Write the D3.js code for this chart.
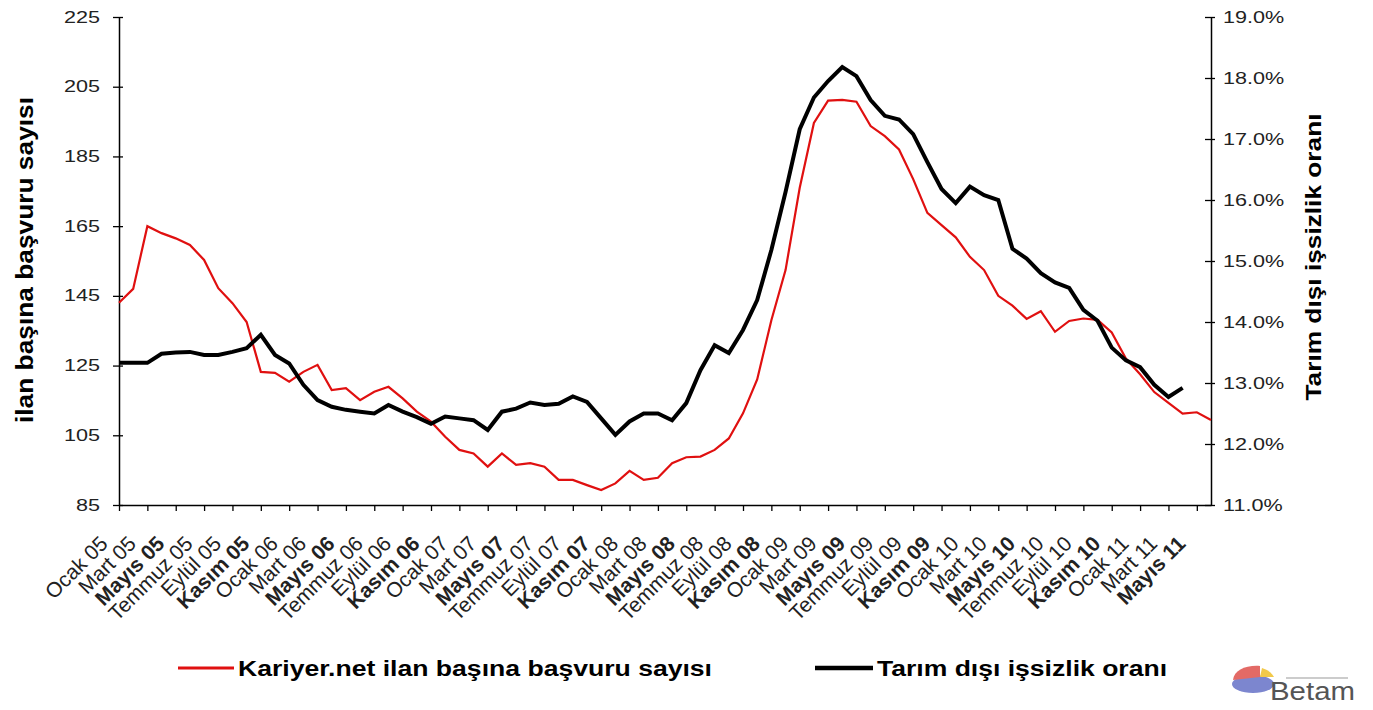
<!DOCTYPE html>
<html>
<head>
<meta charset="utf-8">
<script src="https://cdn.jsdelivr.net/npm/d3@7"></script>
<style>
  body { margin: 0; background: #fff; }
  text { font-family: "Liberation Sans", Arial, sans-serif; }
</style>
</head>
<body>
<div id="chart"></div>
<script>
// month names and years for the category axis
var monthNames = ["Ocak", "Şubat", "Mart", "Nisan", "Mayıs", "Haziran",
                  "Temmuz", "Ağustos", "Eylül", "Ekim", "Kasım", "Aralık"];
var years = ["05", "06", "07", "08", "09", "10", "11"];
var leftTicks = [85, 105, 125, 145, 165, 185, 205, 225];
var rightTicks = [11, 12, 13, 14, 15, 16, 17, 18, 19];

// Kariyer.net ilan başına başvuru sayısı (Ocak 05 - Haziran 11)
var basvuru = [143, 147, 165, 163, 161.5, 159.6, 155.3, 147.2, 142.9, 137.5,
               123.2, 122.9, 120.4, 123.2, 125.2, 118, 118.5, 115.1, 117.5, 118.9,
               115.6, 111.8, 108.9, 104.6, 100.8, 99.8, 96, 99.8, 96.5, 97,
               96, 92.2, 92.2, 90.7, 89.3, 91.2, 94.8, 92.2, 92.8, 97,
               98.7, 98.9, 100.8, 104.1, 111.3, 121, 138, 152.4, 176, 194.6,
               201, 201.2, 200.7, 193.7, 190.8, 187, 178.5, 168.8, 165.3, 161.8,
               156.2, 152.4, 145, 142.2, 138.4, 140.6, 134.7, 137.8, 138.5, 138.1,
               134.5, 127, 122.5, 117.4, 114.3, 111.2, 111.6, 109.4];

// Tarım dışı işsizlik oranı, % (Ocak 05 - Nisan 11)
var issizlik = [13.33, 13.33, 13.33, 13.48, 13.5, 13.51, 13.46, 13.46, 13.51, 13.57,
                13.79, 13.46, 13.32, 12.97, 12.72, 12.61, 12.56, 12.53, 12.5, 12.64,
                12.53, 12.44, 12.33, 12.45, 12.42, 12.39, 12.23, 12.53, 12.58, 12.68,
                12.64, 12.66, 12.78, 12.69, 12.42, 12.15, 12.37, 12.5, 12.5, 12.39,
                12.67, 13.21, 13.62, 13.49, 13.87, 14.36, 15.18, 16.13, 17.16, 17.68,
                17.95, 18.18, 18.03, 17.64, 17.38, 17.32, 17.08, 16.62, 16.18, 15.95,
                16.22, 16.08, 16.0, 15.2, 15.04, 14.8, 14.65, 14.56, 14.2, 14.02,
                13.58, 13.37, 13.26, 12.97, 12.77, 12.92];

// build month labels from the name/year lists
var labels = [];
years.forEach(function(y) {
	monthNames.forEach(function(m) { labels.push(m + " " + y); });
});
labels = labels.slice(0, basvuru.length);

var W = 1373, H = 710;
var margin = { top: 17, left: 119, right: 162, bottom: 205 };
var width = W - margin.left - margin.right,
	height = H - margin.top - margin.bottom;

var svg = d3.select("#chart").append("svg")
	.attr("width", W)
	.attr("height", H);

var g = svg.append("g")
	.attr("transform", "translate(" + margin.left + "," + margin.top + ")");

var x = d3.scaleLinear()
	.domain([0, basvuru.length - 1])
	.range([0, width]);

var yL = d3.scaleLinear().domain([85, 225]).range([height, 0]);
var yR = d3.scaleLinear().domain([11, 19]).range([height, 0]);

var stretch = 1.35;	// the reference text is wide

// left axis
var leftAxis = g.append("g")
	.call(d3.axisLeft(yL).tickValues(leftTicks).tickSizeInner(6).tickSizeOuter(0).tickPadding(0));
leftAxis.selectAll(".tick line").attr("x2", -6).attr("x1", 4);
leftAxis.selectAll(".tick text")
	.attr("x", -19 / stretch)
	.attr("transform", "scale(" + stretch + ",1)")
	.style("font-size", "16px").attr("fill", "#222");

// right axis
var rightAxis = g.append("g")
	.attr("transform", "translate(" + width + ",0)")
	.call(d3.axisRight(yR).tickValues(rightTicks).tickSizeOuter(0)
		.tickFormat(function(d) { return d3.format(".1f")(d) + "%"; }));
rightAxis.selectAll(".tick line").attr("x1", -6).attr("x2", 4);
rightAxis.selectAll(".tick text")
	.attr("x", 12 / stretch)
	.attr("transform", "scale(" + stretch + ",1)")
	.style("font-size", "16px").attr("fill", "#222");

// bottom axis, a tick on every second month; labels drawn separately
var tickIdx = d3.range(0, basvuru.length - 1, 2);
var xAxis = g.append("g")
	.attr("transform", "translate(0," + height + ")")
	.call(d3.axisBottom(x).tickValues(tickIdx)
		.tickSizeOuter(0).tickSizeInner(6)
		.tickFormat(""));

g.selectAll(".domain").attr("stroke", "#000").attr("stroke-width", 1.5);
g.selectAll(".tick line").attr("stroke", "#000").attr("stroke-width", 1.3);

// rotated month labels
g.append("g").selectAll("text")
	.data(tickIdx)
	.enter().append("text")
	.attr("transform", function(i) {
		return "translate(" + (x(i) - 10) + "," + (height + 40) + ") rotate(-45)";
	})
	.attr("text-anchor", "end")
	.style("font-size", "21px")
	.attr("fill", "#222")
	.style("font-weight", function(i) {
		var m = labels[i].split(" ")[0];
		return (m == "Mayıs" || m == "Kasım") ? "bold" : "normal";
	})
	.text(function(i) { return labels[i]; });

// lines
var redLine = d3.line()
	.x(function(d, i) { return x(i); })
	.y(function(d) { return yL(d); });
var blackLine = d3.line()
	.x(function(d, i) { return x(i); })
	.y(function(d) { return yR(d); });

g.append("path")
	.datum(basvuru)
	.attr("d", redLine)
	.attr("fill", "none")
	.attr("stroke", "#e01010")
	.attr("stroke-width", 2.2);

g.append("path")
	.datum(issizlik)
	.attr("d", blackLine)
	.attr("fill", "none")
	.attr("stroke", "#000")
	.attr("stroke-width", 4);

// axis titles
svg.append("text")
	.attr("transform", "translate(33,260) rotate(-90)")
	.attr("text-anchor", "middle")
	.attr("textLength", 326).attr("lengthAdjust", "spacingAndGlyphs")
	.style("font-size", "23px").style("font-weight", "bold")
	.text("ilan başına başvuru sayısı");

svg.append("text")
	.attr("transform", "translate(1321,257) rotate(-90)")
	.attr("text-anchor", "middle")
	.attr("textLength", 287).attr("lengthAdjust", "spacingAndGlyphs")
	.style("font-size", "22px").style("font-weight", "bold")
	.text("Tarım dışı işsizlik oranı");

// legend
var legend = [
	{ name: "Kariyer.net ilan başına başvuru sayısı", color: "#e01010", w: 3, x0: 178, x1: 234, len: 474 },
	{ name: "Tarım dışı işsizlik oranı", color: "#000", w: 4.5, x0: 815, x1: 873, len: 290 }
];
legend.forEach(function(d) {
	svg.append("line")
		.attr("x1", d.x0).attr("x2", d.x1)
		.attr("y1", 668).attr("y2", 668)
		.attr("stroke", d.color).attr("stroke-width", d.w);
	svg.append("text")
		.attr("x", d.x1 + 4).attr("y", 676)
		.attr("textLength", d.len).attr("lengthAdjust", "spacingAndGlyphs")
		.style("font-size", "22px").style("font-weight", "bold")
		.text(d.name);
});

// Betam logo
var logo = svg.append("g").attr("transform", "translate(1230,662)");
logo.append("ellipse").attr("cx", 23).attr("cy", 22).attr("rx", 21).attr("ry", 9).attr("fill", "#7c86cf");
logo.append("path").attr("d", "M3,18 C4,8 16,3 30,4 L30,15 Z").attr("fill", "#e36a66");
logo.append("path").attr("d", "M30,15 L32,6 C38,8 42,11 44,15 Z").attr("fill", "#f2c94a");
logo.append("text").attr("x", 40).attr("y", 38)
	.attr("textLength", 85).attr("lengthAdjust", "spacingAndGlyphs")
	.style("font-size", "25px").attr("fill", "#555").text("Betam");
logo.append("rect").attr("x", 56).attr("y", 15).attr("width", 62).attr("height", 2).attr("fill", "#ccc");
</script>
</body>
</html>
